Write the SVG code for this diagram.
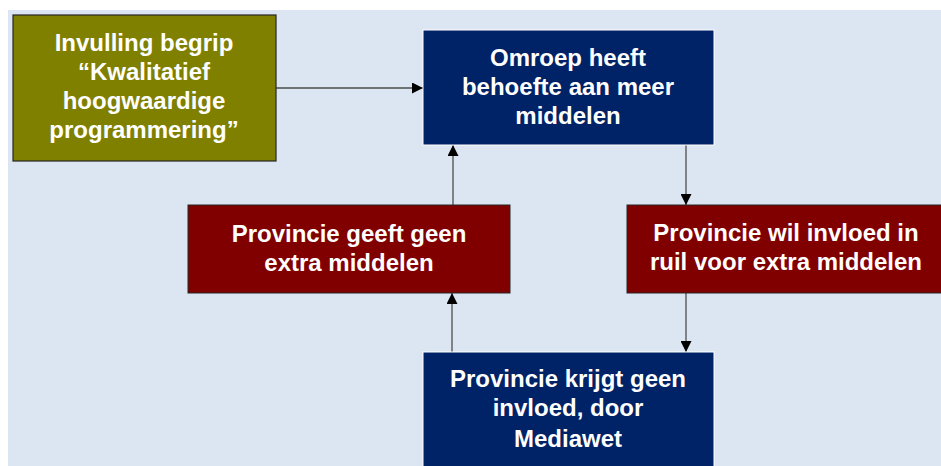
<svg xmlns="http://www.w3.org/2000/svg" width="941" height="466" viewBox="0 0 941 466">
<style>
.t{font-family:"Liberation Sans",Arial,sans-serif;font-weight:bold;font-size:24px;fill:#ffffff;text-anchor:middle}
.navy{fill:#002266;stroke:#ffffff;stroke-width:1}
.red{fill:#800000;stroke:#262626;stroke-width:1}
.olive{fill:#808000;stroke:#262626;stroke-width:1.2}
.c{stroke:#4d4d4d;stroke-width:1.3;fill:none;marker-end:url(#ah)}
</style>
<defs>
<marker id="ah" viewBox="0 0 10 10" refX="10" refY="5" markerWidth="11" markerHeight="11" markerUnits="userSpaceOnUse" orient="auto">
<path d="M0,0 L10,5 L0,10 z" fill="#000000"/>
</marker>
</defs>
<rect x="0" y="0" width="941" height="466" fill="#ffffff"/>
<rect x="8" y="10" width="933" height="456" fill="#dce6f2"/>
<g id="connectors">
<line class="c" x1="276" y1="88" x2="423" y2="88"/>
<line class="c" x1="686" y1="145" x2="686" y2="205"/>
<line class="c" x1="686" y1="293" x2="686" y2="352"/>
<line class="c" x1="452" y1="352" x2="452" y2="293"/>
<line class="c" x1="453" y1="205" x2="453" y2="145"/>
</g>
<g id="invulling">
<rect class="olive" x="13" y="15" width="263" height="146"/>
<text class="t" x="144" y="51">Invulling begrip</text>
<text class="t" x="144" y="80">“Kwalitatief</text>
<text class="t" x="144" y="109">hoogwaardige</text>
<text class="t" x="144" y="138">programmering”</text>
</g>
<g id="omroep">
<rect class="navy" x="423" y="30" width="291" height="115"/>
<text class="t" x="568" y="66">Omroep heeft</text>
<text class="t" x="568" y="95">behoefte aan meer</text>
<text class="t" x="568" y="124">middelen</text>
</g>
<g id="geeft">
<rect class="red" x="188" y="205" width="322" height="88"/>
<text class="t" x="349" y="242">Provincie geeft geen</text>
<text class="t" x="349" y="271">extra middelen</text>
</g>
<g id="wil">
<rect class="red" x="627" y="205" width="322" height="88"/>
<text class="t" x="786" y="241">Provincie wil invloed in</text>
<text class="t" x="786" y="270">ruil voor extra middelen</text>
</g>
<g id="krijgt">
<rect class="navy" x="423" y="352" width="291" height="120"/>
<text class="t" x="568" y="387">Provincie krijgt geen</text>
<text class="t" x="568" y="416">invloed, door</text>
<text class="t" x="568" y="447">Mediawet</text>
</g>
</svg>
